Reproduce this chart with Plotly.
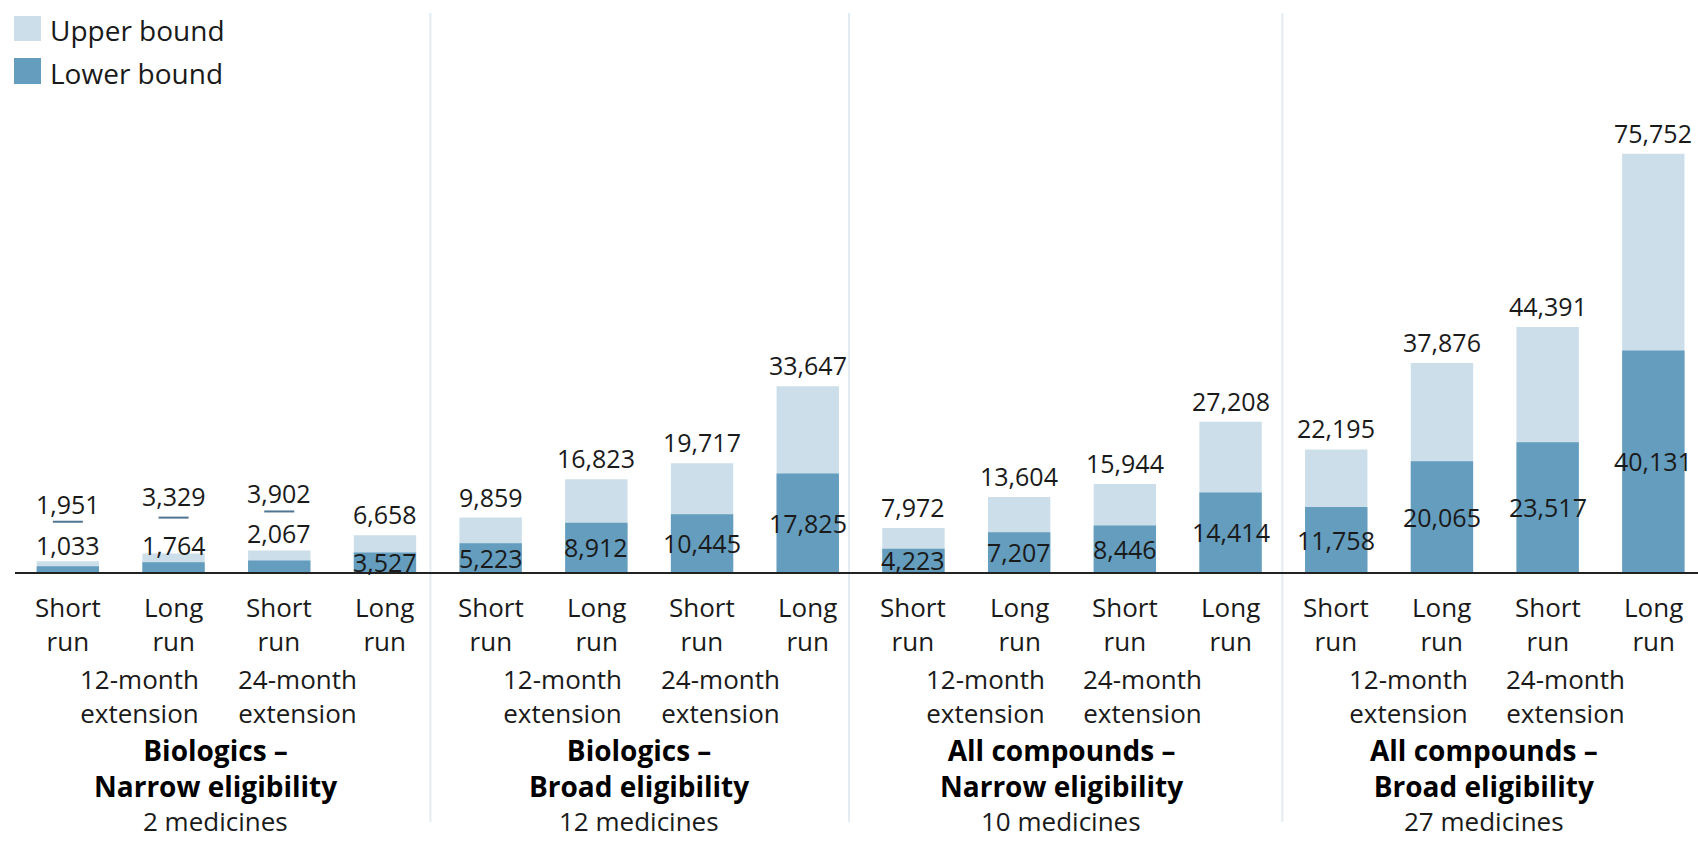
import plotly.graph_objects as go

# ---- data -------------------------------------------------------------
run_labels = ["Short<br>run", "Long<br>run", "Short<br>run", "Long<br>run"] * 4
upper_bound = [1951, 3329, 3902, 6658,
               9859, 16823, 19717, 33647,
               7972, 13604, 15944, 27208,
               22195, 37876, 44391, 75752]
lower_bound = [1033, 1764, 2067, 3527,
               5223, 8912, 10445, 17825,
               4223, 7207, 8446, 14414,
               11758, 20065, 23517, 40131]
extension_labels = ["12-month<br>extension", "24-month<br>extension"]
group_titles = ["Biologics –<br>Narrow eligibility",
                "Biologics –<br>Broad eligibility",
                "All compounds –<br>Narrow eligibility",
                "All compounds –<br>Broad eligibility"]
group_counts = ["2 medicines", "12 medicines", "10 medicines", "27 medicines"]

# ---- style ------------------------------------------------------------
W, H = 1698, 841
M_L, M_R, M_T, M_B = 15, 0, 100, 269
PLOT_W = W - M_L - M_R
PLOT_H = H - M_T - M_B
BASE_Y = M_T + PLOT_H            # pixel row of the zero line
UNIT_PX = 105.7                  # pixels per category slot
Y_PX_PER = 5.52 / 1000           # pixels per unit value
X_RANGE = [-0.5, -0.5 + PLOT_W / UNIT_PX]
Y_RANGE = [0, PLOT_H / Y_PX_PER]

LIGHT = "#cbdeea"
DARK = "#649dbd"
LEADER = "#4f7592"
SEP = "#e3ecf3"
TXT = "#1a1a1a"
FONT = "Open Sans"

# bars whose labels sit above the column (value too small to hold text):
# index -> (lower-label shift, leader-line shift) in pixels above the column
lifted = {0: (16, 39.5), 1: (9, 36), 2: (17.5, 39)}
# group separators (category units) and label offsets within a group
sep_x = [3.43, 7.39, 11.49]
ext_offsets = [0.68, 2.17]
title_offset = 1.40


def px_x(px):
    return (px - M_L) / PLOT_W


def px_y(py):
    return (BASE_Y - py) / PLOT_H


def label(**kw):
    base = dict(showarrow=False, borderpad=0, yanchor="middle")
    base.update(kw)
    return base


x = list(range(len(upper_bound)))

fig = go.Figure()
fig.add_trace(go.Bar(x=x, y=upper_bound, width=0.59, marker_color=LIGHT,
                     marker_line_width=0, name="Upper bound",
                     showlegend=False, hoverinfo="y"))
fig.add_trace(go.Bar(x=x, y=lower_bound, width=0.59, marker_color=DARK,
                     marker_line_width=0, name="Lower bound",
                     showlegend=False, hoverinfo="y"))

ann = []
shapes = []
val_font = dict(size=25, color=TXT, family=FONT)

# value labels
for i, (u, l) in enumerate(zip(upper_bound, lower_bound)):
    if i in lifted:
        low_shift, line_shift = lifted[i]
        ann.append(label(x=i, y=u, text=f"{u:,}", yshift=57.5, font=val_font))
        ann.append(label(x=i, y=u, text=f"{l:,}", yshift=low_shift, font=val_font))
        shapes.append(dict(type="line", xref="x", yref="y",
                           xsizemode="pixel", xanchor=i, x0=-15, x1=15,
                           ysizemode="pixel", yanchor=u, y0=line_shift, y1=line_shift,
                           line=dict(color=LEADER, width=2)))
    else:
        ann.append(label(x=i, y=u, text=f"{u:,}", yshift=21, font=val_font))
        ann.append(label(x=i, y=l / 2, text=f"{l:,}", font=val_font))

# category labels
for i in x:
    ann.append(label(x=i, xref="x", y=px_y(624), yref="paper", text=run_labels[i],
                     font=dict(size=26, color=TXT, family=FONT)))

# extension labels, group titles and counts
for g in range(4):
    first = g * 4
    for k, lab in enumerate(extension_labels):
        ann.append(label(x=first + ext_offsets[k], xref="x", y=px_y(696), yref="paper",
                         text=lab, font=dict(size=26, color=TXT, family=FONT)))
    ann.append(label(x=first + title_offset, xref="x", y=px_y(768), yref="paper",
                     text="<b>" + group_titles[g].replace("<br>", "</b><br><b>") + "</b>",
                     font=dict(size=28, color="#000000", family=FONT)))
    ann.append(label(x=first + title_offset, xref="x", y=px_y(840.5), yref="paper",
                     yanchor="bottom", text=group_counts[g],
                     font=dict(size=26, color=TXT, family=FONT)))

# group separators
for sx in sep_x:
    shapes.append(dict(type="line", xref="x", yref="paper", x0=sx, x1=sx,
                       y0=px_y(13), y1=px_y(822), layer="below",
                       line=dict(color=SEP, width=2)))

# legend
legend_items = [("Upper bound", LIGHT, 16, 41, 30), ("Lower bound", DARK, 58, 84, 72.5)]
for name, col, top, bot, cy in legend_items:
    shapes.append(dict(type="rect", xref="paper", yref="paper",
                       x0=px_x(14), x1=px_x(41), y0=px_y(bot), y1=px_y(top),
                       fillcolor=col, line_width=0))
    ann.append(label(x=px_x(49), xref="paper", y=px_y(cy), yref="paper", text=name,
                     xanchor="left", font=dict(size=28, color=TXT, family=FONT)))

fig.update_layout(
    width=W, height=H,
    margin=dict(l=M_L, r=M_R, t=M_T, b=M_B, pad=0),
    barmode="overlay",
    plot_bgcolor="white", paper_bgcolor="white",
    font=dict(family=FONT, color=TXT),
    xaxis=dict(range=X_RANGE, showticklabels=False, showgrid=False, zeroline=False,
               showline=True, linecolor="#222222", linewidth=1.5, ticks=""),
    yaxis=dict(range=Y_RANGE, showticklabels=False, showgrid=False, zeroline=False,
               showline=False, ticks=""),
    annotations=ann,
    shapes=shapes,
    showlegend=False,
)

fig.write_html("out.html")
